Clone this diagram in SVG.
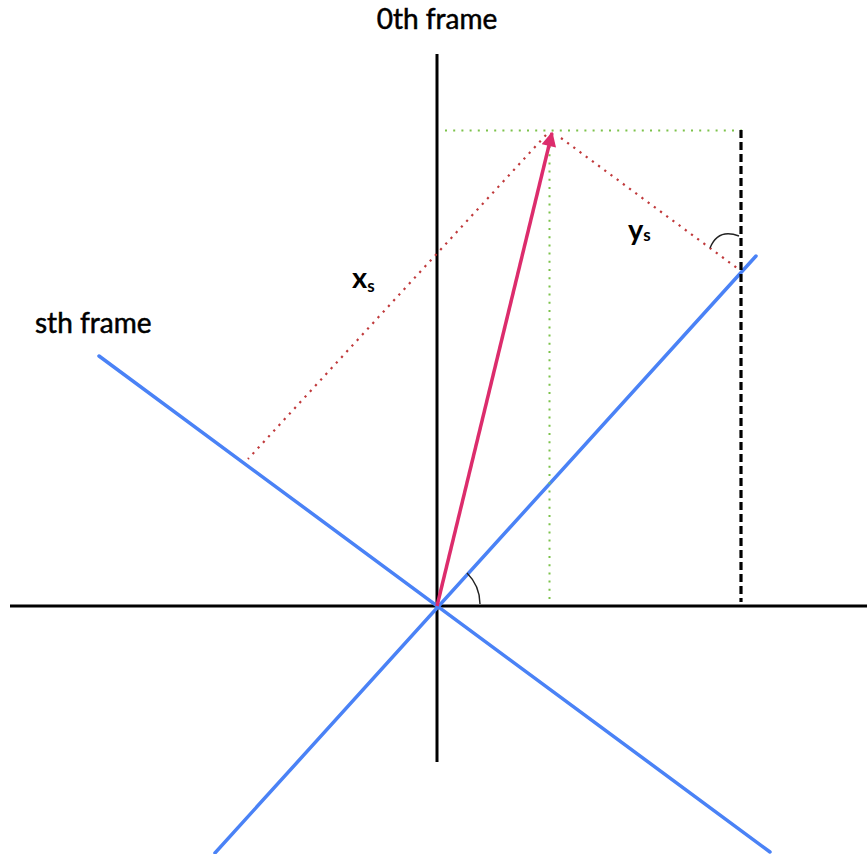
<svg xmlns="http://www.w3.org/2000/svg" width="867" height="854" viewBox="0 0 867 854">
<defs>
<style>
.axis{stroke:#000;stroke-width:3;fill:none}
.blue{stroke:#4A82F6;stroke-width:3.5;fill:none;stroke-linecap:round}
.green{stroke:#7CC24A;stroke-width:2;stroke-dasharray:2 6.2;fill:none}
.red{stroke:#C0393B;stroke-width:2.2;stroke-dasharray:2.2 5.5;fill:none}
.dash{stroke:#000;stroke-width:3.2;stroke-dasharray:8 4;fill:none}
.arc{stroke:#222;stroke-width:1.4;fill:none}
.lbl{font-family:Lato,"Open Sans",sans-serif;font-size:28px;fill:#000;stroke:#000;stroke-width:0.5}
.sym{font-family:Lato,"Open Sans",sans-serif;font-size:29px;font-weight:bold;fill:#000}
</style>
<marker id="ah" viewBox="0 0 10 10" refX="9" refY="5" markerWidth="4.8" markerHeight="4.2" markerUnits="strokeWidth" orient="auto">
<path d="M0,0 L10,5 L0,10 z" fill="#DC2C6C"/>
</marker>
</defs>
<g id="axes">
<line id="y-axis" class="axis" x1="437" y1="54" x2="437" y2="762"/>
<line id="x-axis" class="axis" x1="10" y1="606" x2="867" y2="606"/>
</g>
<g id="s-frame">
<line class="blue" x1="215" y1="853" x2="756" y2="256"/>
<line class="blue" x1="99" y1="356" x2="770" y2="852"/>
</g>
<g id="connectors">
<line class="green" x1="445" y1="130.5" x2="742" y2="130.5"/>
<line class="green" x1="549.5" y1="146" x2="549.5" y2="604"/>
<line class="dash" x1="741" y1="130" x2="741" y2="602"/>
<line class="red" x1="546" y1="135" x2="248" y2="459"/>
<line class="red" x1="561" y1="138" x2="737" y2="268"/>
<line id="vector" x1="437" y1="606" x2="552" y2="133" stroke="#DC2C6C" stroke-width="3.5" marker-end="url(#ah)"/>
<path class="arc" d="M467,573 A44,44 0 0 1 480,604"/>
<path class="arc" d="M710,248 Q718,228 739,236"/>
</g>
<g id="labels">
<text class="lbl" x="437" y="29" text-anchor="middle">0th frame</text>
<text class="lbl" x="35" y="333">sth frame</text>
<text class="sym" x="352" y="288">x<tspan font-size="17" dy="4">s</tspan></text>
<text class="sym" x="628" y="240">y<tspan font-size="17" dy="1">s</tspan></text>
</g>
</svg>
